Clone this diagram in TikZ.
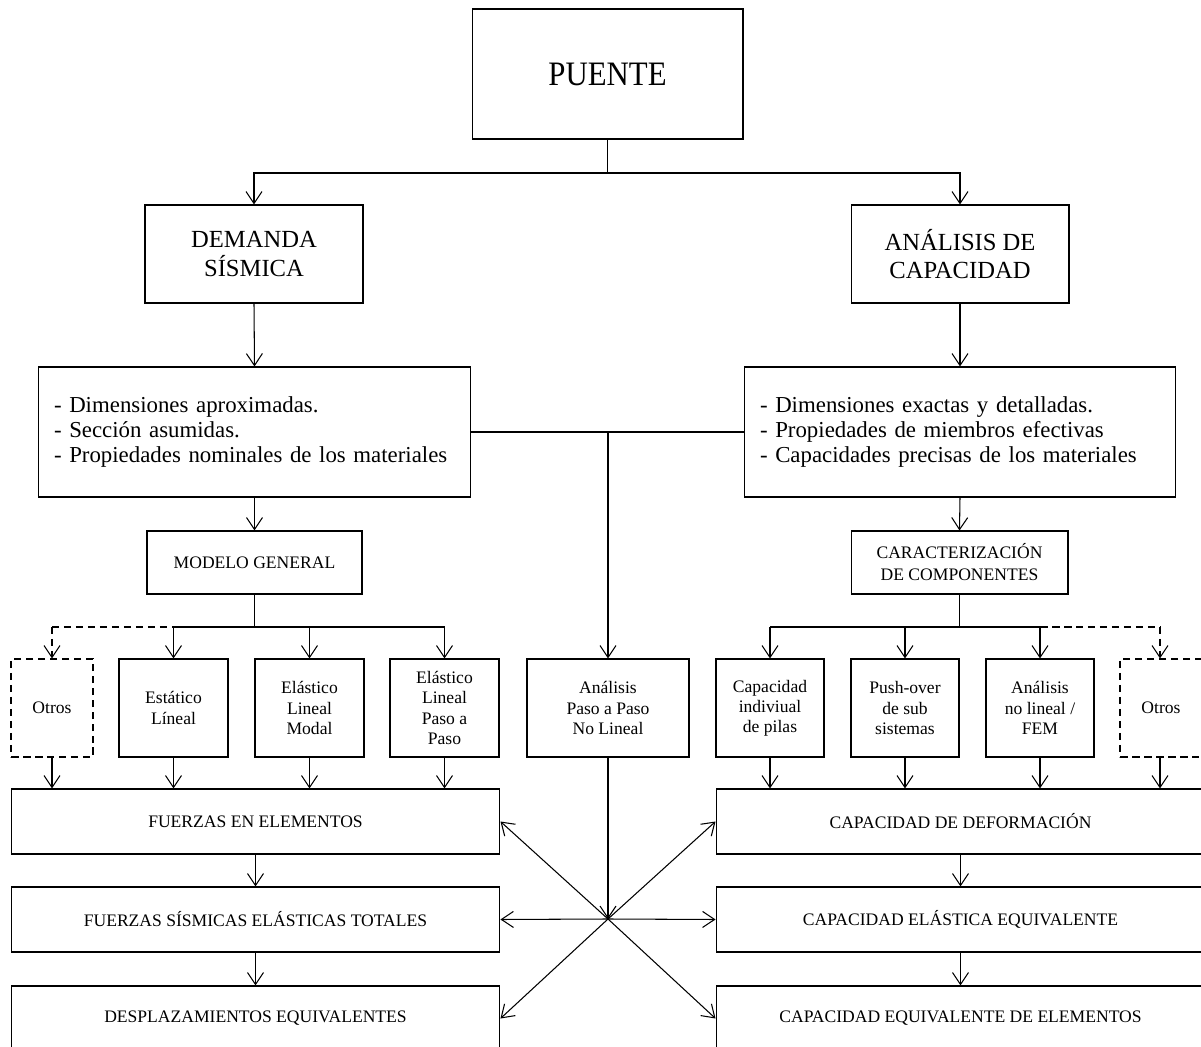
\documentclass[tikz,border=0pt]{standalone}
\usepackage{fontspec}
\setmainfont{Liberation Serif}
\newfontfamily\condfont[FakeStretch=0.9]{Liberation Serif}
\usetikzlibrary{arrows.meta}
\begin{document}
\begin{tikzpicture}[x=0.02cm,y=-0.02cm,
  nbox/.style={draw,line width=0.6pt,inner sep=0pt,align=center,font=\fontsize{10}{11.5}\selectfont},
  dnbox/.style={nbox,dash pattern=on 0.15cm off 0.09cm},
  ln/.style={line width=0.6pt},
  dln/.style={line width=0.6pt,dash pattern=on 0.15cm off 0.09cm},
  arw/.style={line width=0.6pt,-{Straight Barb[length=0.24cm,width=0.32cm]}},
  darw/.style={arw,dash pattern=on 0.15cm off 0.09cm},
  rowbox/.style={nbox,minimum height=1.96cm},
  botbox/.style={nbox,minimum width=9.78cm,minimum height=1.3cm}]
\clip (0,0) rectangle (1201,1047);
% top
\node[nbox,minimum width=5.42cm,minimum height=2.6cm,font=\condfont\fontsize{19.5}{22}\selectfont] (puente) at (607.5,74) {PUENTE};
\node[nbox,minimum width=4.36cm,minimum height=1.96cm,font=\fontsize{14}{16}\selectfont] (dem) at (254,254) {DEMANDA\\SÍSMICA};
\node[nbox,minimum width=4.36cm,minimum height=1.96cm,font=\fontsize{14}{16}\selectfont] (ana) at (960,254) {ANÁLISIS DE\\CAPACIDAD};
% lists
\node[nbox,minimum width=8.66cm,minimum height=2.6cm,text width=8.02cm,align=left,font=\fontsize{13}{14.4}\selectfont] (lst) at (254.5,432) {- Dimensiones aproximadas.\\- Sección asumidas.\\- Propiedades nominales de los materiales\vphantom{g}};
\node[nbox,minimum width=8.64cm,minimum height=2.6cm,text width=8.0cm,align=left,font=\fontsize{13}{14.4}\selectfont] (rst) at (960,432) {- Dimensiones exactas y detalladas.\\- Propiedades de miembros efectivas\\- Capacidades precisas de los materiales};
% models
\node[nbox,minimum width=4.3cm,minimum height=1.26cm] (mod) at (254.5,562.5) {MODELO GENERAL};
\node[nbox,minimum width=4.34cm,minimum height=1.26cm,font=\fontsize{10}{12.5}\selectfont] (car) at (959.5,562.5) {CARACTERIZACIÓN\\DE COMPONENTES};
% row
\node[dnbox,rowbox,minimum width=1.64cm] (o1) at (52,708) {Otros};
\node[rowbox,minimum width=2.18cm,font=\fontsize{10}{12}\selectfont] (e1) at (173.5,708) {Estático\\Líneal};
\node[rowbox,minimum width=2.18cm] (e2) at (309.5,708) {Elástico\\Lineal\\Modal};
\node[rowbox,minimum width=2.18cm] (e3) at (444.5,708) {Elástico\\Lineal\\Paso a\\Paso};
\node[rowbox,minimum width=3.24cm] (ap) at (608,708) {Análisis\\Paso a Paso\\No Lineal};
\node[rowbox,minimum width=2.16cm] (c1) at (770,708) {Capacidad\\indiviual\\de pilas};
\node[rowbox,minimum width=2.16cm] (c2) at (905,708) {Push-over\\de sub\\sistemas};
\node[rowbox,minimum width=2.16cm] (c3) at (1040,708) {Análisis\\no lineal /\\FEM};
\node[dnbox,rowbox,minimum width=1.64cm] (o2) at (1161,708) {Otros};
% bottom
\node[botbox] (f1) at (255.5,821.5) {FUERZAS EN ELEMENTOS};
\node[botbox] (f2) at (255.5,919.5) {FUERZAS SÍSMICAS ELÁSTICAS TOTALES};
\node[botbox] (f3) at (255.5,1018.5) {DESPLAZAMIENTOS EQUIVALENTES};
\node[botbox] (d1) at (960.5,821.5) {CAPACIDAD DE DEFORMACIÓN};
\node[botbox] (d2) at (960.5,919.5) {CAPACIDAD ELÁSTICA EQUIVALENTE};
\node[botbox] (d3) at (960.5,1018.5) {CAPACIDAD EQUIVALENTE DE ELEMENTOS};
% coordinates
\coordinate (pj) at (607.5,173);
\coordinate (mj) at (254.5,627);
\coordinate (cj) at (959.5,627);
\coordinate (oj) at (1160,627);
\coordinate (X) at (608,919);
% connectors top
\draw[ln] (puente.south) -- (pj);
\draw[arw] (pj) -| (dem.north);
\draw[arw] (pj) -| (ana.north);
\draw[arw] (dem.south) -- (lst.north);
\draw[arw] (ana.south) -- (rst.north);
\draw[ln] (lst.east) -- (rst.west);
\draw[arw] (ap.north |- lst.east) -- (ap.north);
\draw[arw] (lst.south) -- (mod.north);
\draw[arw] (rst.south) -- (car.north);
% left fan
\draw[ln] (mod.south) -- (mj);
\draw[ln] (e1.north |- mj) -- (e3.north |- mj);
\draw[dln] (o1.north |- mj) -- (e1.north |- mj);
\draw[darw] (o1.north |- mj) -- (o1.north);
\draw[arw] (e1.north |- mj) -- (e1.north);
\draw[arw] (e2.north |- mj) -- (e2.north);
\draw[arw] (e3.north |- mj) -- (e3.north);
% right fan
\draw[ln] (car.south) -- (cj);
\draw[ln] (c1.north |- cj) -- (c3.north |- cj);
\draw[dln] (c3.north |- cj) -- (oj);
\draw[darw] (oj) -- (oj |- o2.north);
\draw[arw] (c1.north |- cj) -- (c1.north);
\draw[arw] (c2.north |- cj) -- (c2.north);
\draw[arw] (c3.north |- cj) -- (c3.north);
% row to bottom
\foreach \n in {o1,e1,e2,e3} \draw[arw] (\n.south) -- (\n.south |- f1.north);
\foreach \n in {c1,c2,c3} \draw[arw] (\n.south) -- (\n.south |- d1.north);
\draw[arw] (oj |- o2.south) -- (oj |- d1.north);
\draw[arw] (f1.south) -- (f2.north);
\draw[arw] (f2.south) -- (f3.north);
\draw[arw] (d1.south) -- (d2.north);
\draw[arw] (d2.south) -- (d3.north);
% star
\draw[arw] (ap.south) -- (X);
\draw[arw] (X) -- (f1.east);
\draw[arw] (X) -- (f2.east);
\draw[arw] (X) -- (f3.east);
\draw[arw] (X) -- (d1.west);
\draw[arw] (X) -- (d2.west);
\draw[arw] (X) -- (d3.west);
\end{tikzpicture}
\end{document}
